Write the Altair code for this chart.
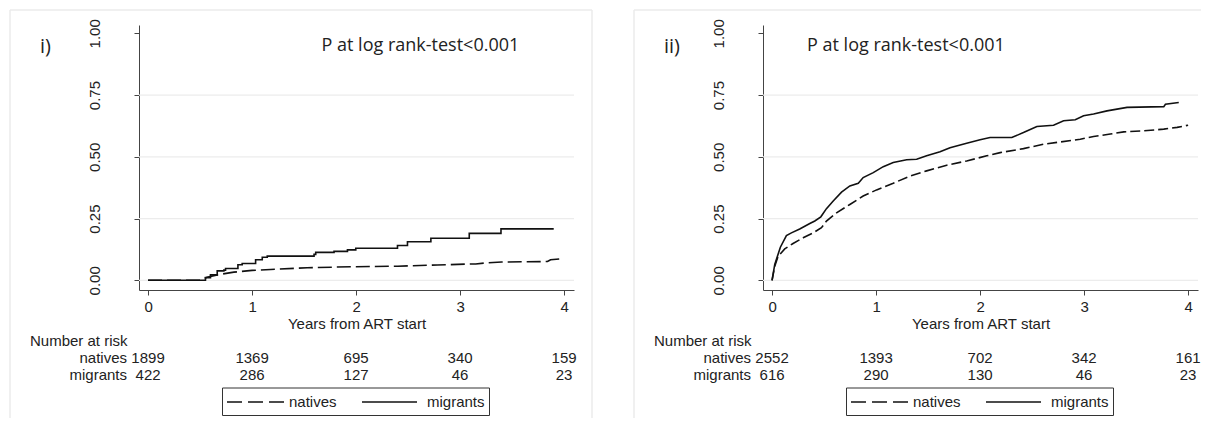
import altair as alt
import pandas as pd

# ---------------- data ----------------
years = [0, 1, 2, 3, 4]
y_ticks = [0.0, 0.25, 0.5, 0.75, 1.0]
grid_vals = [0.0, 0.25, 0.5, 0.75]

# panel i)
p1_mig_t = [0, 0.494, 0.552, 0.600, 0.665, 0.729, 0.745, 0.825, 0.864, 0.905, 1.002, 1.034, 1.098,
            1.146, 1.596, 1.612, 1.788, 1.917, 1.997, 2.398, 2.494, 2.719, 3.088, 3.393, 3.90]
p1_mig_v = [0, 0, 0.011, 0.022, 0.038, 0.041, 0.048, 0.048, 0.063, 0.068, 0.068, 0.083, 0.093,
            0.098, 0.105, 0.113, 0.117, 0.123, 0.130, 0.141, 0.156, 0.170, 0.190, 0.208, 0.208]
p1_nat_t = [0, 0.494, 0.568, 0.665, 0.825, 1.0, 1.178, 1.53, 1.98, 2.40, 2.78, 3.10, 3.15, 3.26,
            3.40, 3.84, 3.87, 4.0]
p1_nat_v = [0, 0, 0.012, 0.022, 0.033, 0.040, 0.044, 0.051, 0.055, 0.057, 0.062, 0.066, 0.066,
            0.071, 0.074, 0.076, 0.083, 0.088]

# panel ii)
p2_mig_t = [0, 0.026, 0.08, 0.138, 0.186, 0.266, 0.363, 0.411, 0.469, 0.523, 0.588, 0.668, 0.748,
            0.829, 0.876, 0.973, 1.069, 1.165, 1.294, 1.390, 1.486, 1.615, 1.711, 1.871, 2.0, 2.096,
            2.305, 2.417, 2.546, 2.706, 2.803, 2.915, 2.995, 3.091, 3.220, 3.413, 3.766, 3.782, 3.91]
p2_mig_v = [0, 0.064, 0.134, 0.181, 0.192, 0.208, 0.230, 0.240, 0.257, 0.290, 0.321, 0.357, 0.382,
            0.393, 0.416, 0.436, 0.460, 0.477, 0.488, 0.490, 0.504, 0.520, 0.537, 0.555, 0.569, 0.578,
            0.578, 0.598, 0.623, 0.628, 0.646, 0.650, 0.666, 0.673, 0.686, 0.700, 0.703, 0.713, 0.72]
p2_nat_t = [0, 0.026, 0.058, 0.122, 0.202, 0.299, 0.395, 0.475, 0.523, 0.620, 0.748, 0.876, 1.005,
            1.165, 1.326, 1.486, 1.679, 1.871, 2.064, 2.193, 2.417, 2.610, 2.771, 2.963, 3.091, 3.252,
            3.381, 3.573, 3.766, 3.894, 4.0]
p2_nat_v = [0, 0.057, 0.097, 0.127, 0.149, 0.172, 0.192, 0.213, 0.240, 0.273, 0.307, 0.341, 0.366,
            0.393, 0.422, 0.443, 0.466, 0.483, 0.504, 0.517, 0.533, 0.551, 0.560, 0.571, 0.582, 0.592,
            0.601, 0.605, 0.612, 0.619, 0.628]

# numbers at risk
p1_risk_natives = [1899, 1369, 695, 340, 159]
p1_risk_migrants = [422, 286, 127, 46, 23]
p2_risk_natives = [2552, 1393, 702, 342, 161]
p2_risk_migrants = [616, 290, 130, 46, 23]

groups = ["natives", "migrants"]
panel_tags = ["i)", "ii)"]
ptext = "P at log rank-test<0.001"
x_title = "Years from ART start"
risk_title = "Number at risk"

# ---------------- styling ----------------
W, H = 435, 265
ARIAL = "Liberation Sans"
CAL = "Open Sans"
TXT = "#222222"
AX = "#444444"
FRAME = "#ebebeb"
xdom = [-0.087, 4.095]
ydom = [-0.0393, 1.0336]


def xenc(field):
    return alt.X(
        f"{field}:Q",
        scale=alt.Scale(domain=xdom, nice=False, zero=False),
        axis=alt.Axis(values=years, format="d", title=x_title, tickSize=5, labelPadding=11.7,
                      labelBaseline="middle", labelFont=ARIAL, labelFontSize=15, labelColor=TXT,
                      titleFont=ARIAL, titleFontSize=15, titleFontWeight="normal", titleColor=TXT,
                      titleY=33, titleBaseline="middle", domainColor=AX, tickColor=AX, grid=False,
                      labelFlush=False, labelOverlap=False),
    )


def yenc(field):
    return alt.Y(
        f"{field}:Q",
        scale=alt.Scale(domain=ydom, nice=False, zero=False),
        axis=alt.Axis(values=y_ticks, format=".2f", title=None, tickSize=5, labelPadding=39.5,
                      labelAngle=270, labelAlign="center", labelBaseline="middle", labelFont=ARIAL,
                      labelFontSize=15, labelColor=TXT, domainColor=AX, tickColor=AX, grid=False,
                      labelFlush=False, labelOverlap=False),
    )


def panel(tag, title_x, mig_t, mig_v, mig_interp, nat_t, nat_v, nat_dash, risk_nat, risk_mig, right_edge):
    layers = []
    # frame (light grey border of each graph region)
    layers.append(alt.Chart(pd.DataFrame({"a": [0]})).mark_rule(color=FRAME, strokeWidth=1.5).encode(
        x=alt.value(-129), y=alt.value(-15), y2=alt.value(393)))
    layers.append(alt.Chart(pd.DataFrame({"a": [0]})).mark_rule(color=FRAME, strokeWidth=1.5).encode(
        x=alt.value(-129), x2=alt.value(453 if right_edge else 438), y=alt.value(-15)))
    if right_edge:
        layers.append(alt.Chart(pd.DataFrame({"a": [0]})).mark_rule(color=FRAME, strokeWidth=1.5).encode(
            x=alt.value(453), y=alt.value(-15), y2=alt.value(393)))

    # grid lines
    layers.append(alt.Chart(pd.DataFrame({"g": grid_vals})).mark_rule(color="#ececec", strokeWidth=1.2).encode(
        y=yenc("g")))

    # curves
    nat = pd.DataFrame({"t": nat_t, "v": nat_v})
    mig = pd.DataFrame({"t": mig_t, "v": mig_v})
    layers.append(alt.Chart(nat).mark_line(color="#111111", strokeWidth=1.6, strokeDash=nat_dash,
                                           interpolate="linear").encode(x=xenc("t"), y=yenc("v"), order="t:Q"))
    layers.append(alt.Chart(mig).mark_line(color="#111111", strokeWidth=1.6,
                                           interpolate=mig_interp).encode(x=xenc("t"), y=yenc("v"), order="t:Q"))

    # panel tag and p-value text
    layers.append(alt.Chart(pd.DataFrame({"s": [tag]})).mark_text(
        font=CAL, fontSize=20, color=TXT, align="left", baseline="middle").encode(
        x=alt.value(-99), y=alt.value(22), text="s:N"))
    layers.append(alt.Chart(pd.DataFrame({"s": [ptext]})).mark_text(
        font=CAL, fontSize=18, color=TXT, align="left", baseline="middle").encode(
        x=alt.value(title_x), y=alt.value(21), text="s:N"))

    # number at risk table
    layers.append(alt.Chart(pd.DataFrame({"s": [risk_title]})).mark_text(
        font=ARIAL, fontSize=15, color=TXT, align="left", baseline="middle").encode(
        x=alt.value(-109), y=alt.value(316), text="s:N"))
    for name, row, yy in [(groups[0], risk_nat, 333), (groups[1], risk_mig, 350)]:
        layers.append(alt.Chart(pd.DataFrame({"s": [name]})).mark_text(
            font=ARIAL, fontSize=15, color=TXT, align="right", baseline="middle").encode(
            x=alt.value(-12), y=alt.value(yy), text="s:N"))
        layers.append(alt.Chart(pd.DataFrame({"yr": years, "n": row})).mark_text(
            font=ARIAL, fontSize=15, color=TXT, align="center", baseline="middle").encode(
            x=xenc("yr"), y=alt.value(yy), text="n:Q"))

    # legend box
    layers.append(alt.Chart(pd.DataFrame({"a": [0]})).mark_rect(fill="white", stroke="#333333", strokeWidth=1).encode(
        x=alt.value(83.5), x2=alt.value(350.5), y=alt.value(363), y2=alt.value(390.5)))
    layers.append(alt.Chart(pd.DataFrame({"a": [0]})).mark_rule(color="#111111", strokeWidth=1.6, strokeDash=[15, 6]).encode(
        x=alt.value(88), x2=alt.value(146), y=alt.value(377)))
    layers.append(alt.Chart(pd.DataFrame({"a": [0]})).mark_rule(color="#111111", strokeWidth=1.6).encode(
        x=alt.value(223), x2=alt.value(278), y=alt.value(377)))
    layers.append(alt.Chart(pd.DataFrame({"s": [groups[0]]})).mark_text(
        font=ARIAL, fontSize=15, color=TXT, align="left", baseline="middle").encode(
        x=alt.value(150), y=alt.value(377), text="s:N"))
    layers.append(alt.Chart(pd.DataFrame({"s": [groups[1]]})).mark_text(
        font=ARIAL, fontSize=15, color=TXT, align="left", baseline="middle").encode(
        x=alt.value(288), y=alt.value(377), text="s:N"))

    return alt.layer(*layers).properties(width=W, height=H)


left = panel(panel_tags[0], 182.5, p1_mig_t, p1_mig_v, "step-after", p1_nat_t, p1_nat_v, [14, 5],
             p1_risk_natives, p1_risk_migrants, True)
right = panel(panel_tags[1], 44, p2_mig_t, p2_mig_v, "linear", p2_nat_t, p2_nat_v, [10, 4],
              p2_risk_natives, p2_risk_migrants, False)

chart = alt.hconcat(left, right, spacing=40).properties(
    padding={"left": 1, "top": 1, "right": 0, "bottom": 0},
    background="white",
).configure_view(strokeWidth=0)

chart.save("out.html", embed_options={"renderer": "svg", "actions": False})
